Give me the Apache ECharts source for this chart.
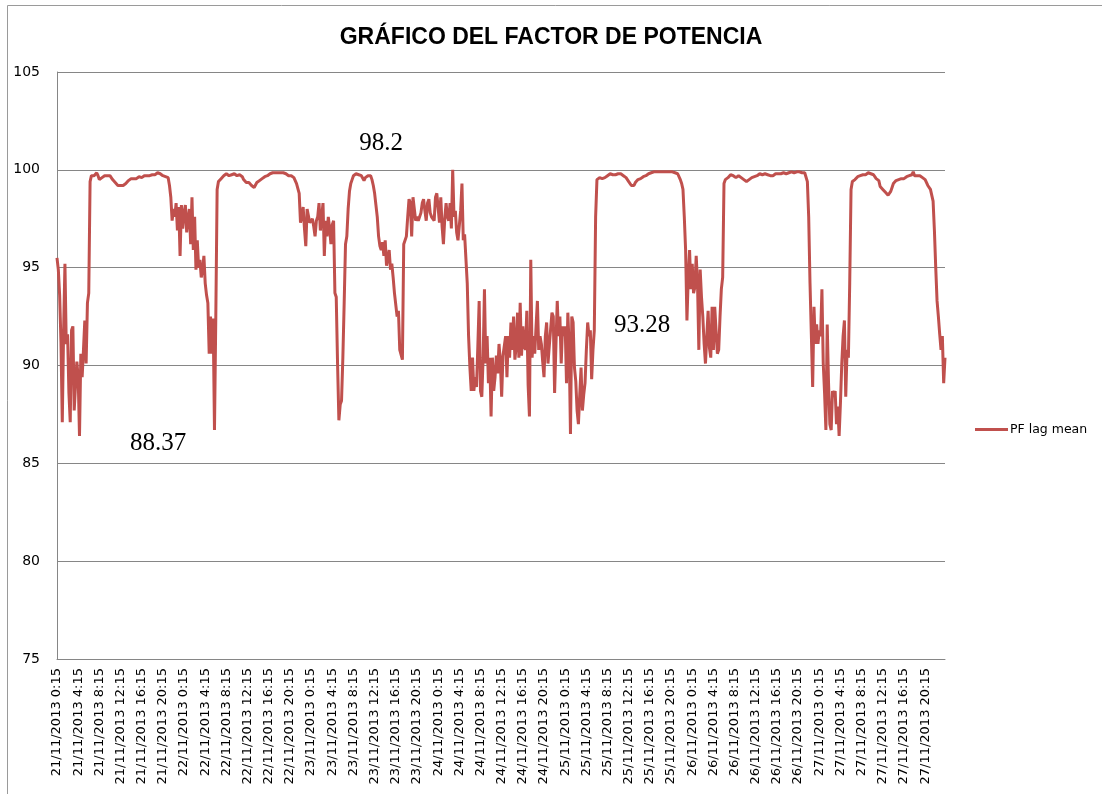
<!DOCTYPE html>
<html>
<head>
<meta charset="utf-8">
<script src="https://cdn.jsdelivr.net/npm/echarts@6/dist/echarts.min.js"></script>
<style>
html,body{margin:0;padding:0;background:#fff;}
#chart{width:1102px;height:794px;}
</style>
</head>
<body>
<div id="chart"></div>
<script>
// Power factor readings (15-min), one array per day, starting 21/11/2013 0:15
const day21 = [95.5,94.9,93.6,91.2,87.1,91.8,95.2,91.1,91.6,88.6,
87.1,91.8,92.0,87.7,89.0,90.2,89.4,86.4,90.6,89.4,
90.8,92.3,90.1,93.2,93.7,99.4,99.7,99.8,99.7,99.6,
99.85,99.7,99.5,99.45,99.6,99.65,99.7,99.6,99.7,99.75,
99.7,99.6,99.5,99.4,99.35,99.3,99.2,99.15,99.2,99.25,
99.2,99.3,99.3,99.35,99.45,99.5,99.55,99.5,99.55,99.6,
99.55,99.6,99.65,99.6,99.6,99.65,99.7,99.65,99.7,99.75,
99.7,99.7,99.75,99.8,99.75,99.8,99.85,99.8,99.8,99.75,
99.7,99.7,99.65,99.7,99.6,99.2,98.6,97.4,98.0,97.6,
98.3,96.9,98.1,95.6,98.2,97.0];
const day22 = [97.8,98.2,96.8,97.5,98.0,96.2,98.6,95.9,97.6,94.9,
96.4,95.0,95.4,94.5,94.9,95.6,94.2,93.6,93.2,90.6,
92.5,90.6,92.4,86.7,92.5,99.0,99.4,99.5,99.55,99.65,
99.7,99.75,99.8,99.75,99.7,99.7,99.75,99.8,99.8,99.75,
99.7,99.7,99.75,99.7,99.65,99.5,99.4,99.35,99.3,99.35,
99.3,99.2,99.15,99.1,99.2,99.35,99.4,99.45,99.5,99.55,
99.6,99.65,99.7,99.7,99.75,99.8,99.8,99.85,99.9,99.85,
99.9,99.85,99.8,99.85,99.9,99.85,99.8,99.8,99.75,99.7,
99.75,99.7,99.6,99.6,99.5,99.3,99.4,98.8,97.3,97.6,
98.1,97.0,96.1,98.0,98.1,97.3];
const day23 = [97.3,97.5,97.1,96.6,97.4,97.6,98.3,96.9,97.0,98.3,
95.6,97.4,96.6,97.6,97.0,96.2,97.2,97.4,93.7,93.5,
90.1,87.2,88.0,88.2,90.4,93.2,96.2,96.6,98.0,98.9,
99.3,99.5,99.7,99.75,99.8,99.8,99.75,99.7,99.7,99.6,
99.45,99.6,99.7,99.7,99.65,99.7,99.5,99.2,98.8,98.2,
97.6,96.6,96.1,95.9,96.3,95.6,96.4,95.1,95.0,95.9,
94.9,95.2,94.5,93.7,93.8,92.5,92.8,90.8,90.9,90.3,
96.2,96.2,96.6,97.6,98.5,98.3,96.6,98.6,98.6,97.4,
97.6,97.4,97.5,97.8,98.3,98.5,97.9,97.4,98.3,98.5,
97.8,97.6,97.6,97.4,98.6,98.8];
const day24 = [98.8,97.3,98.6,97.1,96.2,97.5,98.3,97.6,97.4,98.3,
97.0,100.0,97.6,97.9,96.8,96.4,96.4,97.9,99.3,96.4,
96.7,96.8,94.2,91.5,89.9,88.7,90.4,88.7,89.4,88.9,
91.0,93.3,88.7,88.4,90.4,93.9,90.1,91.5,89.1,90.4,
87.4,90.4,88.7,89.4,90.5,89.6,91.1,90.2,88.4,90.5,
90.5,91.5,89.4,91.5,90.4,92.2,90.8,92.5,90.3,91.0,
92.7,90.4,93.2,90.5,92.0,91.0,90.8,92.8,89.0,87.4,
95.4,90.4,91.5,90.6,92.0,93.3,90.8,91.5,91.1,90.2,
89.4,91.5,92.2,90.1,91.0,91.1,92.7,92.5,88.6,91.0,
93.3,91.5,92.5,90.1,92.0,91.5];
const day25 = [92.0,89.1,92.7,91.0,86.5,92.5,92.2,89.9,89.2,87.7,
87.0,88.5,89.9,87.7,88.5,89.1,90.8,92.2,91.5,91.8,
89.3,90.8,91.8,97.6,99.5,99.55,99.6,99.6,99.55,99.55,
99.6,99.7,99.7,99.75,99.8,99.75,99.75,99.7,99.75,99.8,
99.8,99.75,99.8,99.75,99.7,99.65,99.6,99.6,99.4,99.3,
99.2,99.1,99.2,99.35,99.45,99.5,99.55,99.55,99.6,99.65,
99.65,99.7,99.75,99.8,99.85,99.85,99.9,99.9,99.9,99.9,
99.9,99.9,99.85,99.9,99.9,99.9,99.9,99.9,99.9,99.9,
99.9,99.9,99.85,99.85,99.8,99.8,99.7,99.5,99.3,99.0,
97.6,95.9,92.3,94.5,95.9,93.9];
const day26 = [95.2,93.7,94.0,95.6,94.2,90.8,94.9,93.5,92.5,91.1,
90.1,91.5,92.8,90.9,90.4,93.0,90.8,93.0,91.8,90.6,
90.8,92.5,93.9,94.5,99.3,99.5,99.55,99.6,99.65,99.75,
99.8,99.7,99.65,99.6,99.65,99.7,99.65,99.6,99.55,99.5,
99.6,99.4,99.45,99.5,99.55,99.6,99.65,99.65,99.7,99.7,
99.75,99.8,99.8,99.75,99.8,99.8,99.8,99.75,99.75,99.7,
99.75,99.7,99.75,99.8,99.8,99.8,99.85,99.8,99.8,99.85,
99.85,99.8,99.8,99.85,99.85,99.9,99.9,99.85,99.9,99.9,
99.85,99.9,99.9,99.85,99.9,99.85,99.8,99.4,97.6,94.2,
91.6,88.9,93.0,91.1,92.1,91.1];
const day27 = [91.8,91.5,93.9,90.1,88.6,86.7,92.1,89.1,87.0,86.7,
88.7,88.4,88.7,87.0,87.9,86.4,88.1,90.1,91.5,92.3,
88.4,90.8,90.4,94.2,99.0,99.4,99.45,99.5,99.6,99.65,
99.7,99.7,99.75,99.75,99.8,99.75,99.8,99.85,99.85,99.8,
99.8,99.75,99.65,99.55,99.5,99.45,99.15,99.1,99.0,98.9,
98.85,98.8,98.7,98.65,98.9,99.1,99.3,99.4,99.45,99.45,
99.5,99.5,99.55,99.5,99.55,99.6,99.65,99.65,99.7,99.7,
99.75,99.9,99.7,99.65,99.7,99.75,99.7,99.65,99.6,99.55,
99.5,99.4,99.2,99.1,99.0,98.9,98.4,96.9,95.0,93.3,
92.5,91.6,90.8,91.5,89.1,90.4];

const pfLagMean = [].concat(day21, day22, day23, day24, day25, day26, day27);

// Category labels: timestamps every 15 minutes
const dayNames = ['21/11/2013','22/11/2013','23/11/2013','24/11/2013','25/11/2013','26/11/2013','27/11/2013','28/11/2013'];
const categories = [];
for (let i = 0; i < pfLagMean.length; i++) {
  const mins = 15 + i * 15;
  const d = Math.floor(mins / 1440);
  const m = mins % 1440;
  const h = Math.floor(m / 60);
  const mm = m % 60;
  categories.push(dayNames[d] + ' ' + h + ':' + (mm < 10 ? '0' + mm : mm));
}

const yTicks = {min: 75, max: 105, step: 5};
const annotations = [
  {text: '88.37', x: 158, y: 443},
  {text: '98.2', x: 381, y: 143},
  {text: '93.28', x: 642, y: 325}
];

const chart = echarts.init(document.getElementById('chart'), null, {renderer: 'canvas'});
chart.setOption({
  animation: false,
  backgroundColor: '#ffffff',
  title: {
    text: 'GRÁFICO DEL FACTOR DE POTENCIA',
    left: 'center',
    top: 21,
    textStyle: {fontFamily: 'Liberation Sans', fontWeight: 'bold', fontSize: 23, color: '#000'}
  },
  legend: {
    data: ['PF lag mean'],
    left: 970,
    top: 418,
    icon: 'rect',
    itemWidth: 33,
    itemHeight: 3,
    itemGap: 0,
    textStyle: {fontFamily: 'DejaVu Sans', fontSize: 12.5, color: '#000', padding: [0, 0, 0, -3]}
  },
  grid: {left: 57, right: 157, top: 72, bottom: 135},
  xAxis: {
    type: 'category',
    data: categories,
    boundaryGap: false,
    axisLine: {lineStyle: {color: '#868686', width: 1}},
    axisTick: {show: false},
    axisLabel: {interval: 15, rotate: 90, margin: 9, fontFamily: 'DejaVu Sans', fontSize: 13, color: '#000'},
    splitLine: {show: false}
  },
  yAxis: {
    type: 'value',
    min: yTicks.min,
    max: yTicks.max,
    interval: yTicks.step,
    axisLine: {show: true, lineStyle: {color: '#868686', width: 1}},
    axisTick: {show: false},
    axisLabel: {margin: 17, fontFamily: 'DejaVu Sans', fontSize: 14, color: '#000'},
    splitLine: {lineStyle: {color: '#868686', width: 1}}
  },
  series: [{
    name: 'PF lag mean',
    type: 'line',
    data: pfLagMean,
    showSymbol: false,
    symbol: 'none',
    lineStyle: {color: '#C0504D', width: 3},
    itemStyle: {color: '#C0504D'}
  }],
  graphic: [
    {type: 'rect', shape: {x: 7.5, y: 5.5, width: 1300, height: 1000}, style: {fill: 'none', stroke: '#9a9a9a', lineWidth: 1}, silent: true, z: -1}
  ].concat(annotations.map(a => ({
    type: 'text', x: a.x, y: a.y,
    style: {text: a.text, fontFamily: 'Liberation Serif', fontSize: 25, fill: '#000', textAlign: 'center', textVerticalAlign: 'middle'}
  })))
});
</script>
</body>
</html>
